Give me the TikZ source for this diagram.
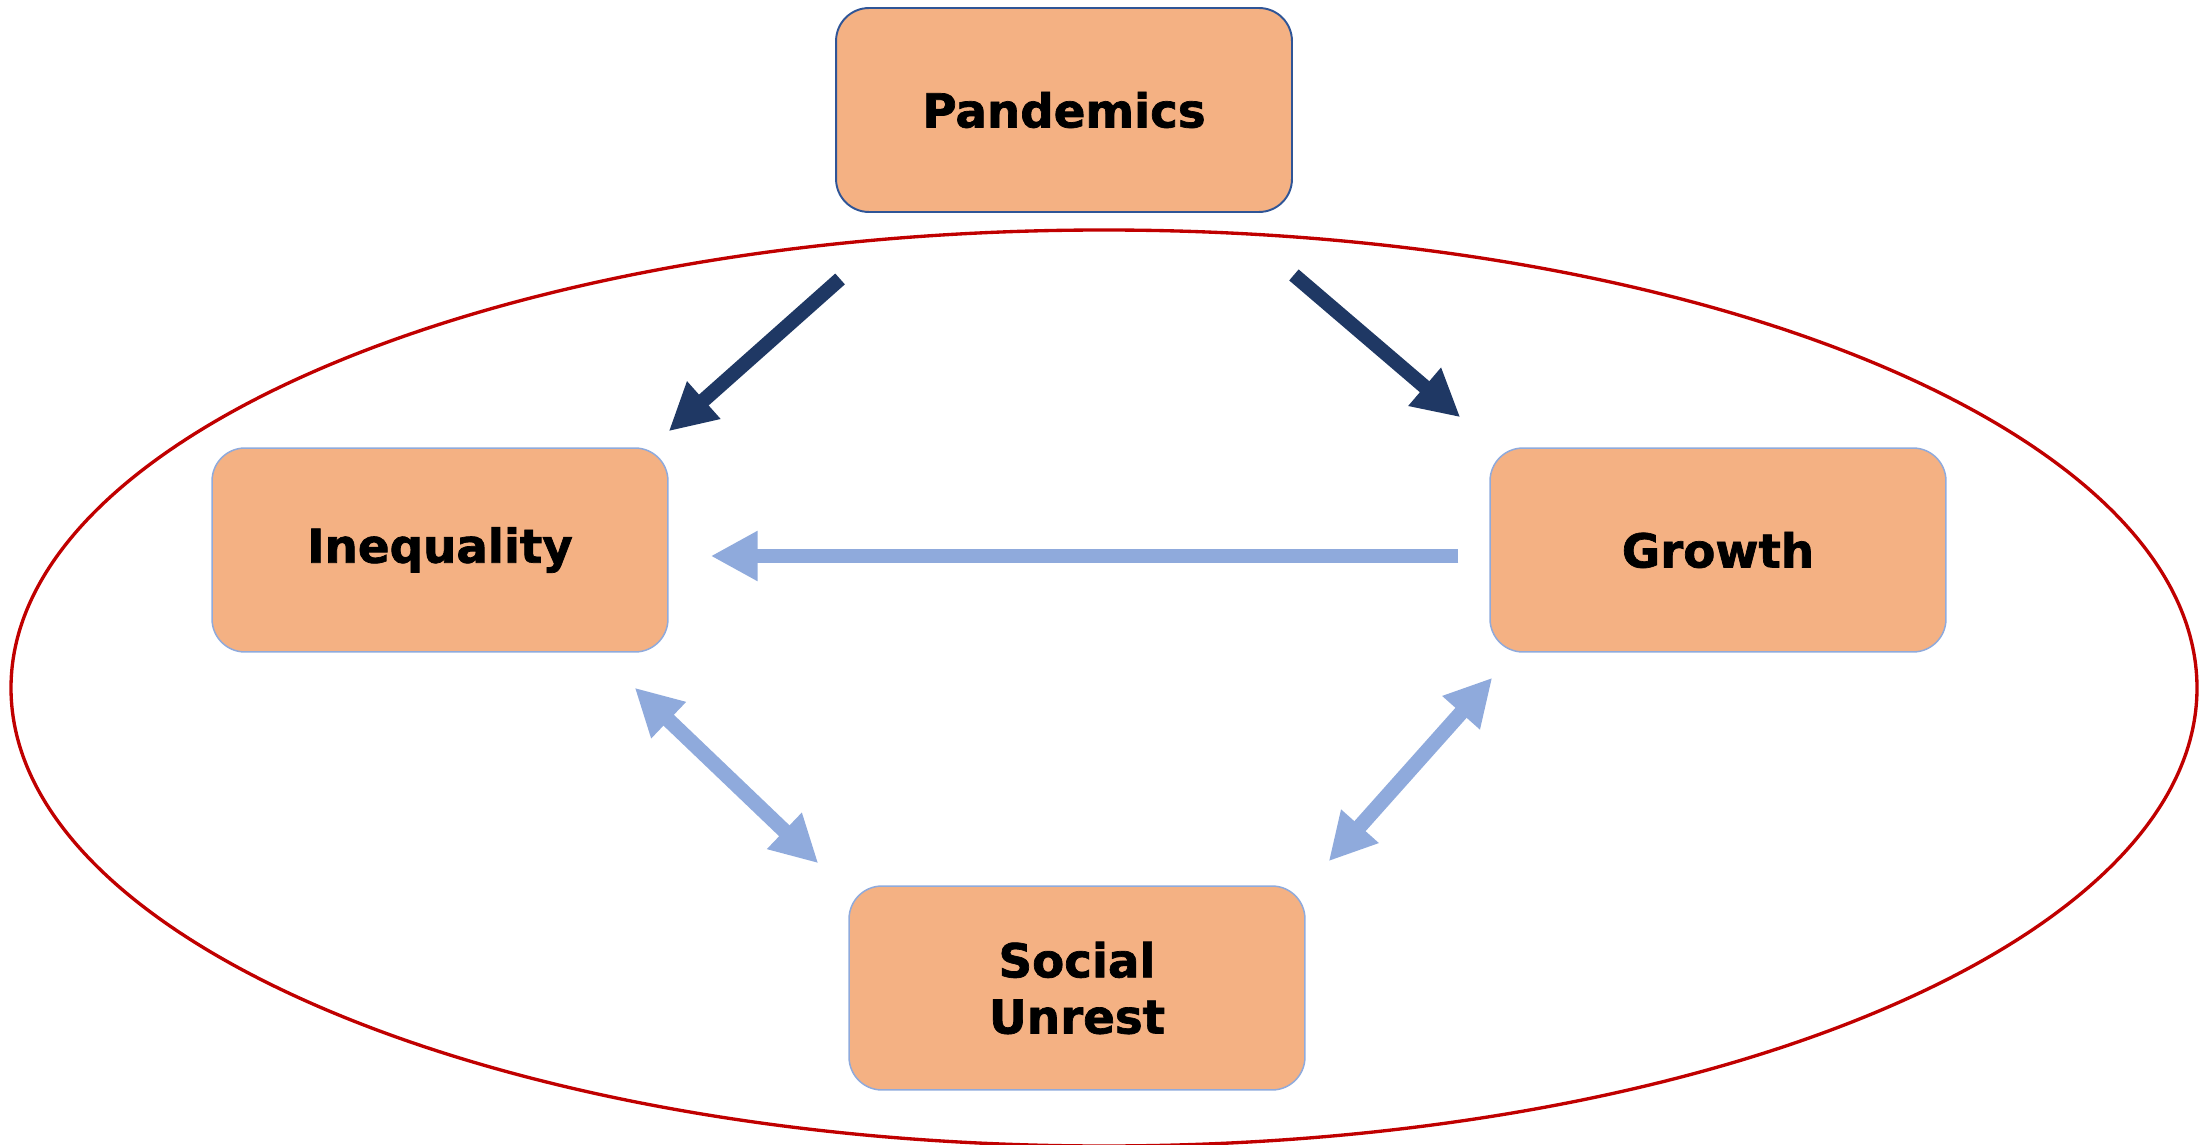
\documentclass[tikz,border=0pt]{standalone}
\usepackage{fontspec}
\setmainfont{DejaVu Sans}[BoldFeatures={FakeBold=1.5}]
\usetikzlibrary{arrows.meta,positioning}
\definecolor{boxfill}{HTML}{F4B183}
\definecolor{navy}{HTML}{1F3864}
\definecolor{paleblue}{HTML}{8FAADC}
\definecolor{ringred}{HTML}{C00000}
\definecolor{boxedge}{HTML}{2F5597}
\tikzstyle{factor}=[
    draw=paleblue, line width=0.85pt, fill=boxfill,
    rounded corners=0.66cm, minimum width=9.12cm, minimum height=4.08cm,
    align=center, font=\fontsize{26.6}{32}\selectfont\bfseries]
\tikzstyle{shock}=[factor, draw=boxedge, line width=1.1pt]
\tikzstyle{push}=[navy, line width=0.29cm,
    -{Triangle[length=0.94cm,width=0.94cm]}]
\tikzstyle{link}=[paleblue, line width=0.3cm,
    -{Triangle[length=0.94cm,width=0.94cm]}]
\tikzstyle{twoway}=[link,
    {Triangle[length=0.94cm,width=0.94cm]}-{Triangle[length=0.94cm,width=0.94cm]}]

\begin{document}
\begin{tikzpicture}[x=0.02cm, y=-0.02cm]
    \useasboundingbox (0,0) rectangle (2208,1145);

    % the economy
    \draw[ringred, line width=1.9pt] (1104,688) ellipse [x radius=1093, y radius=458];

    \node[shock] (pan) at (1064,110) {Pandemics};
    \node[factor] (ineq) at (440,550) {Inequality};
    \node[factor] (growth) at (1718,550) {Growth};
    \node[factor] (unrest) at (1077,988) {Social\\Unrest};

    % shocks from outside
    \draw[push] ([shift={(5,66)}]pan.south west) -- ([shift={(0,-16)}]ineq.north east);
    \draw[push] ([shift={(1,62)}]pan.south east) -- ([shift={(-29,-30)}]growth.north west);

    % feedbacks inside
    \draw[link] ([shift={(-31,6)}]growth.west) -- ([shift={(42,6)}]ineq.east);
    \draw[twoway] ([shift={(-34,35)}]ineq.south east) -- ([shift={(-30,-22)}]unrest.north west);
    \draw[twoway] ([shift={(3,25)}]growth.south west) -- ([shift={(23,-24)}]unrest.north east);
\end{tikzpicture}
\end{document}
